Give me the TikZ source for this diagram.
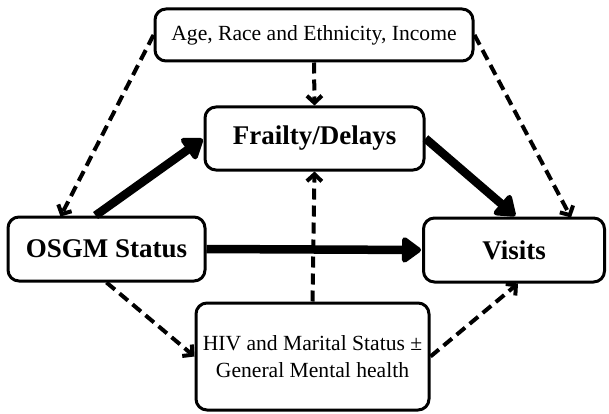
\documentclass[tikz,border=0pt]{standalone}
\usepackage{fontspec}
\setmainfont{Liberation Serif}
\usetikzlibrary{arrows.meta,calc}
\tikzset{
  box/.style={draw, line width=3pt, rounded corners=11pt, inner sep=0pt, align=center, fill=white},
  bigtxt/.style={font=\fontsize{27}{30}\selectfont\bfseries},
  smalltxt/.style={font=\fontsize{21.6}{27}\selectfont},
  dasharrow/.style={line width=4pt, dash pattern=on 11pt off 6pt, -{Straight Barb[length=7pt,width=15pt,line width=4pt]}},
  thickarrow/.style={line width=8.5pt, -{Triangle[length=21pt,width=29pt,round]}, shorten >=1pt}
}
\begin{document}
\begin{tikzpicture}[x=1pt,y=-1pt]
\useasboundingbox (0,0) rectangle (609,414);
\node[box, smalltxt, minimum width=318pt, minimum height=52pt] (top) at (314,35) {Age, Race and Ethnicity, Income};
\node[box, bigtxt, minimum width=219pt, minimum height=63pt] (frail) at (314.5,138.5) {Frailty/Delays};
\node[box, bigtxt, minimum width=197pt, minimum height=64pt] (osgm) at (106.5,249) {OSGM Status};
\node[box, bigtxt, minimum width=181pt, minimum height=64pt] (visits) at (514,250) {Visits};
\node[box, smalltxt, minimum width=233pt, minimum height=107pt] (hiv) at (312.5,356.5) {HIV and Marital Status ±\\General Mental health};
% dashed arrows
\draw[dasharrow] (top.west) -- ([xshift=54pt,yshift=-1pt]osgm.north west);
\draw[dasharrow] (top.east) -- ([xshift=-35pt,yshift=-1pt]visits.north east);
\draw[dasharrow] (top.south) -- (frail.north);
\draw[dasharrow] (hiv.north) -- (frail.south);
\draw[dasharrow] (osgm.south) -- (hiv.west);
\draw[dasharrow] (hiv.east) -- ([xshift=4pt]visits.south);
% thick arrows
\draw[thickarrow] ([xshift=-11pt]osgm.north) -- (frail.west);
\draw[thickarrow] (frail.east) -- ([xshift=2pt]visits.north);
\draw[thickarrow] (osgm.east) -- (visits.west);
\end{tikzpicture}
\end{document}
